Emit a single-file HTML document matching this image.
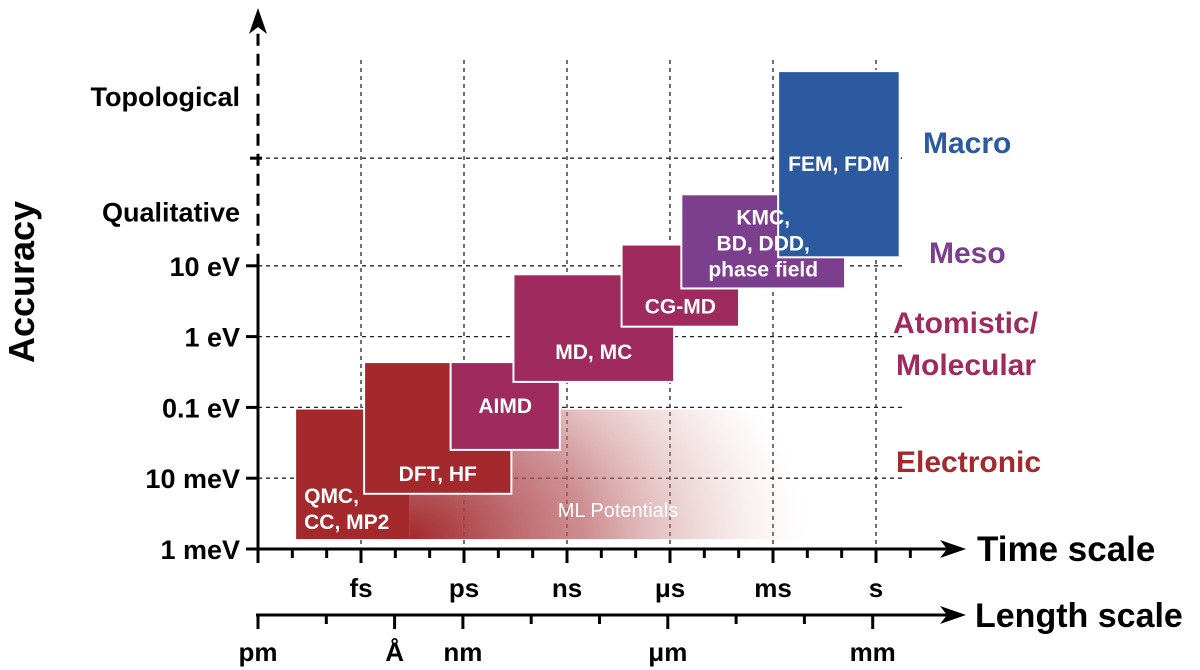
<!DOCTYPE html>
<html><head><meta charset="utf-8"><style>
html,body{margin:0;padding:0;background:#fff;}
svg{display:block;font-family:"Liberation Sans",sans-serif;}
</style></head><body>
<svg id="chart" width="1200" height="670" viewBox="0 0 1200 670">
<defs>
<radialGradient id="mlg" cx="0" cy="1" r="1" gradientUnits="objectBoundingBox" gradientTransform="translate(0,1) scale(1,2.2) translate(0,-1)">
<stop offset="0" stop-color="#a3292d" stop-opacity="1"/>
<stop offset="0.45" stop-color="#b86064" stop-opacity="0.7"/>
<stop offset="1" stop-color="#e8c0c0" stop-opacity="0"/>
</radialGradient>
</defs>
<g id="grid"></g>
<g id="boxes"></g>
<g id="labels"></g>
<g id="axes"></g>
<text x="0" y="0" transform="translate(34,282) rotate(-90)" text-anchor="middle" font-size="36" font-weight="bold">Accuracy</text>
<text x="977" y="561" font-size="35" font-weight="bold">Time scale</text>
<text x="975" y="627" font-size="34" font-weight="bold">Length scale</text>
<text x="923" y="153" font-size="30" font-weight="bold" fill="#2c5aa0">Macro</text>
<text x="929" y="263" font-size="30" font-weight="bold" fill="#7b3f8e">Meso</text>
<text x="893" y="333" font-size="30" font-weight="bold" fill="#9e2a5e">Atomistic/</text>
<text x="896" y="375" font-size="30" font-weight="bold" fill="#9e2a5e">Molecular</text>
<text x="896" y="472" font-size="30" font-weight="bold" fill="#a3292d">Electronic</text>
</svg>
<script>
const timeLabels = ["fs","ps","ns","μs","ms","s"];
const timeMajor = [1,2,3,4,5,6];
const lengthLabels = ["pm","Å","nm","μm","mm"];
const lengthPos = [0,2,3,6,9];
const yLabels = ["1 meV","10 meV","0.1 eV","1 eV","10 eV","Qualitative","Topological"];
const yPos = [0,1,2,3,4,4.77,6.4];
const methodNames = ["QMC,|CC, MP2","DFT, HF","AIMD","MD, MC","CG-MD","KMC,|BD, DDD,|phase field","FEM, FDM"];
const methodX0 = [0.37,1.03,1.87,2.48,3.53,4.11,5.05];
const methodX1 = [1.47,2.46,2.93,4.04,4.67,5.70,6.23];
const methodY0 = [0.14,0.78,1.40,2.36,3.14,3.68,4.12];
const methodY1 = [1.97,2.64,2.64,3.88,4.30,5.01,6.75];
const methodColors = ["#a3292d","#a3292d","#9e2a5e","#9e2a5e","#9e2a5e","#7b3f8e","#2c5aa0"];
const mlRange = [1.47,5.33,0.14,1.97];

const X0=258, XS=103, Y0=549, YS=70.8, LS=68.3;
const xs = v => X0 + v*XS;
const ys = v => Y0 - v*YS;
const NS="http://www.w3.org/2000/svg";
function mk(tag, attrs, parent, text){
  const e=document.createElementNS(NS,tag);
  for(const k in attrs) e.setAttribute(k,attrs[k]);
  if(text!==undefined) e.textContent=text;
  parent.appendChild(e); return e;
}
const grid=document.getElementById('grid');
const boxes=document.getElementById('boxes');
const labels=document.getElementById('labels');
const axes=document.getElementById('axes');
timeMajor.forEach(v=>{
  const l=mk('line',{x1:xs(v),x2:xs(v),y1:60,y2:Y0,stroke:'#222','stroke-width':1.3,'stroke-dasharray':'4,4'},grid);
  
  
});
[1,2,3,4,5.52].forEach(v=>{
  const l=mk('line',{x1:X0,x2:905,y1:ys(v),y2:ys(v),stroke:'#222','stroke-width':1.3,'stroke-dasharray':'4,4'},grid);
  
  
});
const ml=mk('rect',{x:xs(mlRange[0]),y:ys(mlRange[3]),width:xs(mlRange[1])-xs(mlRange[0]),height:ys(mlRange[2])-ys(mlRange[3]),fill:'url(#mlg)'},boxes);


const mlt=mk('text',{x:618,y:517,'text-anchor':'middle','font-size':20,fill:'#fff'},labels,'ML Potentials');


methodNames.forEach((n,i)=>{
  const x=xs(methodX0[i]), x1=xs(methodX1[i]), y=ys(methodY1[i]), y1=ys(methodY0[i]);
  const r=mk('rect',{x:x,y:y,width:x1-x,height:y1-y,fill:methodColors[i],stroke:i===0?'none':'#fff','stroke-width':2},boxes);
  
  
  const lines=n.split('|');
  let cx=(x+x1)/2, cy;
  if(i===0){cx=x+8;}
  if(i===0) cy=y1-36; else if(i===1) cy=y1-13; else if(i===3) cy=y1-23; else if(i===4) cy=y1-13; else if(i===6) cy=y+100; else cy=(y+y1)/2+7-(lines.length-1)*12;
  lines.forEach((ln,j)=>{
    const t=mk('text',{x:cx,y:cy+j*26,'text-anchor':i===0?'start':'middle','font-size':21,'font-weight':'bold',fill:'#fff'},labels,ln);
    
    
  });
});
mk('line',{x1:X0,x2:X0,y1:Y0+2,y2:ys(4),stroke:'#000','stroke-width':3},axes);
mk('line',{x1:X0,x2:X0,y1:ys(4),y2:22,stroke:'#000','stroke-width':3,'stroke-dasharray':'12,8'},axes);
mk('path',{d:'M249,34 L258,8 L267,34 L258,27 Z',fill:'#000'},axes);
yLabels.forEach((lab,i)=>{
  if(i<5) mk('line',{x1:X0-12,x2:X0,y1:ys(yPos[i]),y2:ys(yPos[i]),stroke:'#000','stroke-width':3},axes);
  const t=mk('text',{x:240,y:ys(yPos[i])+10,'text-anchor':'end','font-size':27,'font-weight':'bold'},axes,lab);
  
  
});
mk('line',{x1:X0-8,x2:X0+4,y1:ys(5.52),y2:ys(5.52),stroke:'#000','stroke-width':3},axes);
mk('line',{x1:X0-2,x2:950,y1:Y0,y2:Y0,stroke:'#000','stroke-width':3},axes);
mk('path',{d:'M940,540 L966,549 L940,558 L947,549 Z',fill:'#000'},axes);
for(let k=0;k<=19;k++){
  const v=k/3, maj=k%3===0;
  mk('line',{x1:xs(v),x2:xs(v),y1:Y0,y2:Y0+(maj?14:9),stroke:'#000','stroke-width':3},axes);
}
timeLabels.forEach((lab,i)=>{
  const t=mk('text',{x:xs(timeMajor[i]),y:597,'text-anchor':'middle','font-size':26,'font-weight':'bold'},axes,lab);
  
  
});
const LY=615;
mk('line',{x1:X0-2,x2:950,y1:LY,y2:LY,stroke:'#000','stroke-width':3},axes);
mk('path',{d:'M940,606 L966,615 L940,624 L947,615 Z',fill:'#000'},axes);
for(let k=0;k<=9;k++){
  const maj=lengthPos.indexOf(k)>=0;
  mk('line',{x1:X0+k*LS,x2:X0+k*LS,y1:LY,y2:LY+(maj?14:9),stroke:'#000','stroke-width':3},axes);
}
lengthLabels.forEach((lab,i)=>{
  const t=mk('text',{x:X0+lengthPos[i]*LS,y:661,'text-anchor':'middle','font-size':26,'font-weight':'bold'},axes,lab);
  
  
});
</script>
</body></html>
